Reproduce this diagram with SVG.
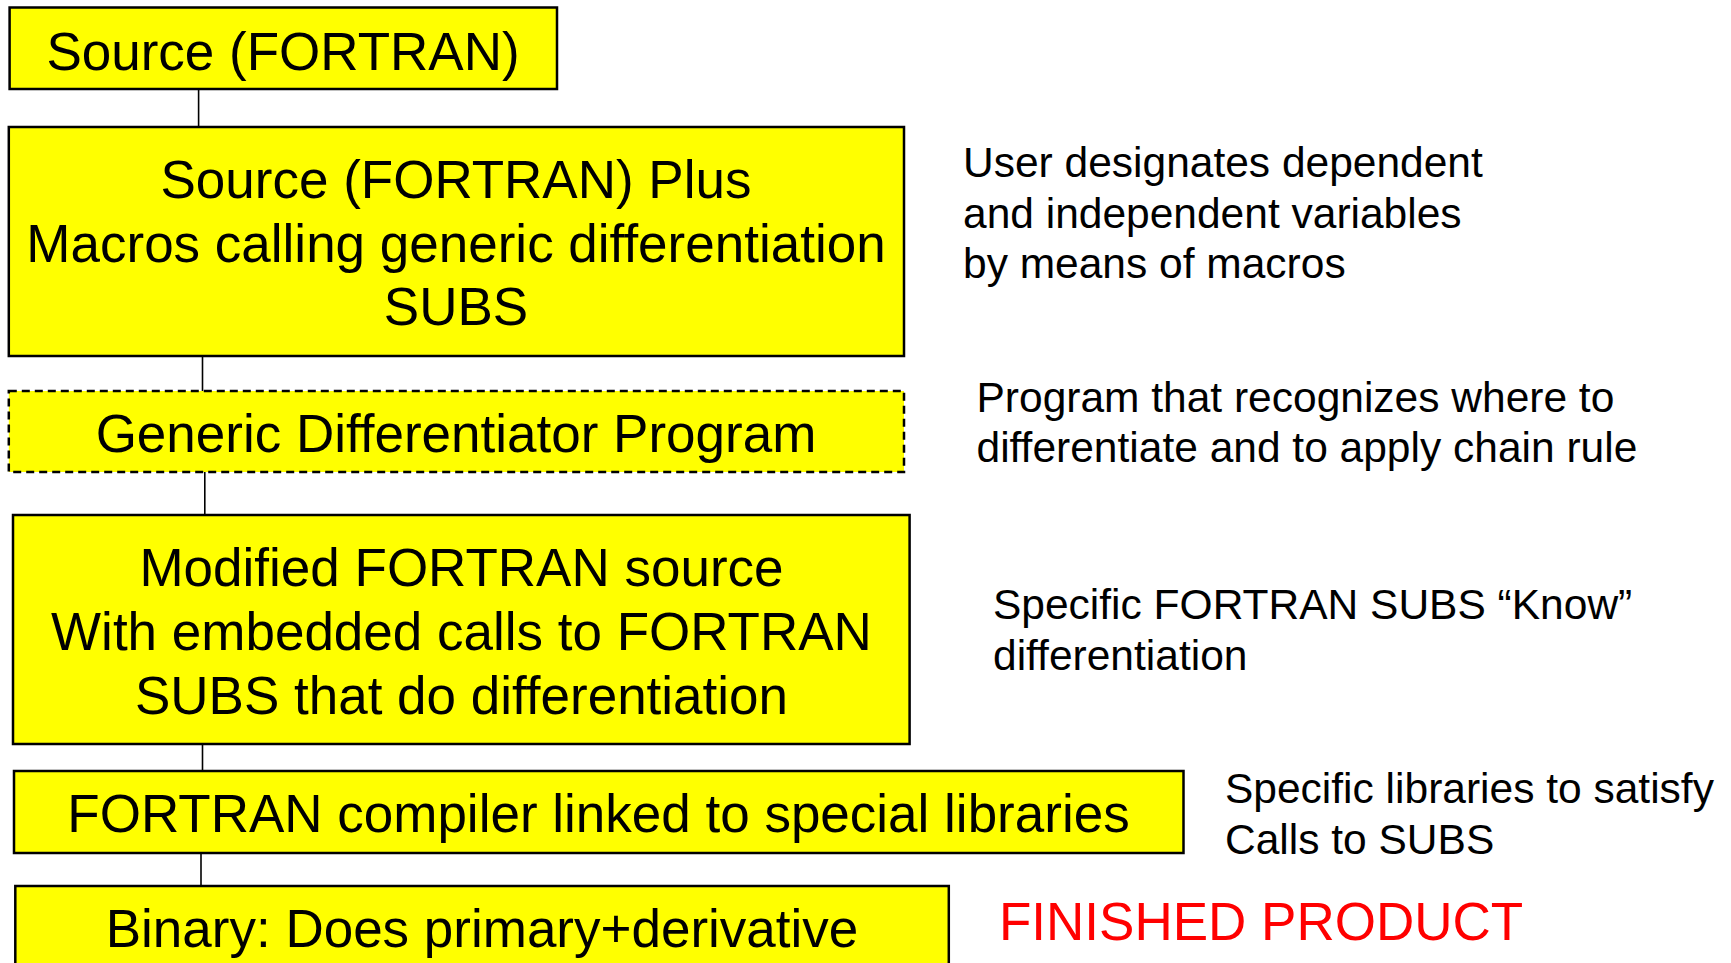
<svg xmlns="http://www.w3.org/2000/svg" width="1731" height="963" viewBox="0 0 1731 963">
  <style>
    .box { fill: #ffff00; stroke: #000000; stroke-width: 2.5; }
    .dashed { stroke-dasharray: 8 5; }
    .label { font-family: "Liberation Sans", Arial, sans-serif; font-size: 53px; fill: #000000; text-anchor: middle; }
    .note { font-family: "Liberation Sans", Arial, sans-serif; font-size: 42.5px; fill: #000000; }
    .final { font-family: "Liberation Sans", Arial, sans-serif; font-size: 53px; fill: #ff0000; }
    .link { stroke: #000000; stroke-width: 1.6; fill: none; }
  </style>
  <rect width="1731" height="963" fill="#ffffff"/>

  <!-- vertical links between pipeline stages -->
  <g id="connectors">
    <line class="link" x1="198.6" y1="89" x2="198.6" y2="127"/>
    <line class="link" x1="202.5" y1="356" x2="202.5" y2="391"/>
    <line class="link" x1="204.8" y1="472" x2="204.8" y2="515"/>
    <line class="link" x1="202.5" y1="744" x2="202.5" y2="771"/>
    <line class="link" x1="201" y1="853" x2="201" y2="886"/>
  </g>

  <g id="source">
    <rect class="box" x="9.6" y="7.5" width="547.4" height="81.5"/>
    <text class="label" x="283" y="69.5">Source (FORTRAN)</text>
  </g>

  <g id="source-macros">
    <rect class="box" x="8.8" y="127" width="895.2" height="229"/>
    <text class="label" x="456" y="197.5">Source (FORTRAN) Plus</text>
    <text class="label" x="456" y="262">Macros calling generic differentiation</text>
    <text class="label" x="456" y="324.5">SUBS</text>
  </g>

  <g id="differentiator">
    <rect class="box dashed" x="8.8" y="391" width="895.2" height="81"/>
    <text class="label" x="456" y="452">Generic Differentiator Program</text>
  </g>

  <g id="modified-source">
    <rect class="box" x="13" y="515" width="896.6" height="229"/>
    <text class="label" x="461.5" y="585.5">Modified FORTRAN source</text>
    <text class="label" x="461.5" y="650">With embedded calls to FORTRAN</text>
    <text class="label" x="461.5" y="713.5">SUBS that do differentiation</text>
  </g>

  <g id="compiler">
    <rect class="box" x="14" y="771" width="1169.5" height="82"/>
    <text class="label" x="598.5" y="832">FORTRAN compiler linked to special libraries</text>
  </g>

  <g id="binary">
    <rect class="box" x="15.3" y="886" width="933.5" height="100"/>
    <text class="label" x="482" y="947">Binary: Does primary+derivative</text>
  </g>

  <!-- side notes -->
  <g id="note-macros">
    <text class="note" x="963" y="176.5">User designates dependent</text>
    <text class="note" x="963" y="227.5">and independent variables</text>
    <text class="note" x="963" y="278">by means of macros</text>
  </g>
  <g id="note-program">
    <text class="note" x="976.5" y="411.5">Program that recognizes where to</text>
    <text class="note" x="976.5" y="461.5">differentiate and to apply chain rule</text>
  </g>
  <g id="note-subs">
    <text class="note" x="993" y="618.5">Specific FORTRAN SUBS “Know”</text>
    <text class="note" x="993" y="669.5">differentiation</text>
  </g>
  <g id="note-libraries">
    <text class="note" x="1225" y="803">Specific libraries to satisfy</text>
    <text class="note" x="1225" y="853.5">Calls to SUBS</text>
  </g>
  <g id="note-finished">
    <text class="final" x="999" y="940">FINISHED PRODUCT</text>
  </g>
</svg>
